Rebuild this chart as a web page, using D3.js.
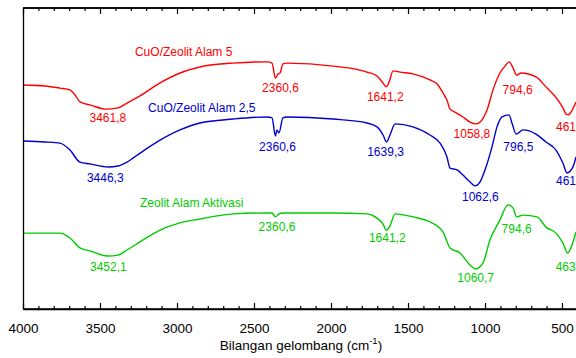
<!DOCTYPE html>
<html><head><meta charset="utf-8">
<script src="https://cdn.jsdelivr.net/npm/d3@7"></script>
<style>body{margin:0;background:#fff} svg text{font-family:"Liberation Sans",Arial,Helvetica,sans-serif}</style>
</head><body><svg id="c" width="576" height="358"></svg>
<script>
// ---- data ----
const majorTicks = [4000,3500,3000,2500,2000,1500,1000,500];
const xTitle = "Bilangan gelombang (cm";
const xTitleSup = "-1";

const seriesNames = ["CuO/Zeolit Alam 5","CuO/Zeolit Alam 2,5","Zeolit Alam Aktivasi"];

const cuo5Wn = [4000,3857,3760,3695,3662,3630,3565,3462,3383,3325,3240,3110,2981,2851,2636,2416,2383,2361,2344,2331,2312,2286,1987,1766,1701,1662,1641,1623,1597,1552,1468,1357,1312,1273,1247,1227,1195,1143,1097,1059,1032,987,948,903,870,844,818,795,766,669,604,526,494,474,461,442,409];
const cuo5T  = [74.4,74.1,73.4,72.8,71.1,68.8,67.8,66.4,66.8,68.4,70.8,75.1,78.4,80.4,81.7,82.1,81.7,76.7,78.1,78.4,81.4,81.7,80.7,78.7,77.4,75.1,73.8,75.4,79.1,78.7,78.1,76.1,74.8,71.8,69.4,66.4,65.4,63.8,62.1,61.5,62.1,66.1,72.8,78.4,80.7,82.1,80.1,77.7,78.4,77.1,73.8,69.4,66.8,64.8,64.5,65.4,68.8];

const cuo25Wn = [4000,3857,3760,3695,3630,3565,3446,3383,3325,3240,3110,2981,2851,2636,2416,2383,2361,2351,2338,2312,2286,1987,1766,1701,1662,1639,1617,1584,1468,1357,1292,1247,1227,1182,1143,1097,1063,1032,1000,955,922,890,844,825,797,753,669,604,539,494,468,429,409];
const cuo25T  = [55.8,55.5,55.1,52.8,48.8,48.2,47.2,47.5,48.8,51.8,56.1,59.5,61.8,63.1,63.8,63.5,57.5,59.5,58.5,63.5,63.8,63.1,61.8,60.5,57.8,55.5,57.8,61.5,60.5,57.8,55.1,50.5,46.8,46.2,44.5,42.2,40.9,42.2,46.2,53.8,60.5,63.8,64.5,61.8,58.1,59.5,58.1,55.5,52.8,48.5,45.2,47.2,50.5];

const zaWn = [4000,3857,3760,3695,3630,3565,3452,3383,3325,3240,3110,2981,2851,2636,2416,2383,2361,2338,2312,1987,1766,1701,1662,1641,1617,1584,1468,1357,1273,1227,1162,1097,1061,1013,968,903,851,818,795,753,662,604,539,494,463,442,409];
const zaT  = [25.2,25.2,25.2,23.6,20.3,19.3,17.6,17.9,19.6,22.3,26.2,28.6,29.9,31.6,31.9,31.9,30.6,31.6,31.9,31.9,31.6,30.2,28.2,26.2,27.6,31.6,30.6,28.9,25.6,20.3,18.6,14.6,13.3,15.3,22.9,29.6,34.6,33.6,30.6,31.2,30.6,27.2,25.2,21.9,18.6,20.3,25.6];

const cuo5Peaks  = ["3461,8","2360,6","1641,2","1058,8","794,6","461"];
const cuo25Peaks = ["3446,3","2360,6","1639,3","1062,6","796,5","461"];
const zaPeaks    = ["3452,1","2360,6","1641,2","1060,7","794,6","463"];

// ---- layout (pixel offsets of annotations) ----
const cuo5Dx = [2,5,-1,-4,1,-2],  cuo5Dy = [9,10,10,10,15,12];
const cuo25Dx = [-3,2,-1,5,2,-2], cuo25Dy = [11,11,10,11,13,9];
const zaDx = [1,1.5,1,0,0,-2],    zaDy = [11,10,8,9,12,14];
const nameAnchors = [[3273,85.4],[3188,66.8],[3240,35.2]];
const colors = ["#ff0000","#0000cc","#00cc00"];

// ---- chart ----
const svg = d3.select("#c");
const x = d3.scaleLinear().domain([4000,400]).range([23,577.4]);
const y = d3.scaleLinear().domain([0,100]).range([309,8]);

const series = [
  {wn:cuo5Wn, t:cuo5T, peaks:cuo5Peaks, dx:cuo5Dx, dy:cuo5Dy},
  {wn:cuo25Wn, t:cuo25T, peaks:cuo25Peaks, dx:cuo25Dx, dy:cuo25Dy},
  {wn:zaWn, t:zaT, peaks:zaPeaks, dx:zaDx, dy:zaDy}
];

svg.append("defs").append("clipPath").attr("id","clip")
  .append("rect").attr("x",23).attr("y",8).attr("width",560).attr("height",301);

const line = d3.line().x(d=>x(d[0])).y(d=>y(d[1])).curve(d3.curveMonotoneX);

function interp(s, w){
  for(let i=0;i<s.wn.length-1;i++){
    const a=s.wn[i], b=s.wn[i+1];
    if(w<=a && w>=b){ const f=(a-w)/(a-b); return s.t[i]+f*(s.t[i+1]-s.t[i]); }
  }
  return s.t[s.t.length-1];
}

series.forEach((s,k)=>{
  const pts = s.wn.map((w,i)=>[w,s.t[i]]);
  svg.append("path").attr("d",line(pts)).attr("fill","none")
    .attr("stroke",colors[k]).attr("stroke-width",1.4).attr("clip-path","url(#clip)");
  s.peaks.forEach((p,i)=>{
    const w = parseFloat(p.replace(",","."));
    svg.append("text").attr("x",x(w)+s.dx[i]).attr("y",y(interp(s,w))+s.dy[i])
      .attr("text-anchor","middle").attr("dominant-baseline","central")
      .attr("font-size",12).attr("fill",colors[k]).text(p);
  });
  svg.append("text").attr("x",x(nameAnchors[k][0])).attr("y",y(nameAnchors[k][1]))
    .attr("dominant-baseline","central").attr("font-size",12).attr("fill",colors[k]).text(seriesNames[k]);
});

// axes
const minorTicks = d3.range(4000,399,-100).filter(v=>v%500!==0);
const gB = svg.append("g").attr("transform","translate(0,309)");
gB.call(d3.axisBottom(x).tickValues(majorTicks).tickSizeInner(-6).tickSizeOuter(0).tickPadding(14).tickFormat(d3.format("d")));
gB.append("g").call(d3.axisBottom(x).tickValues(minorTicks).tickSizeInner(-3).tickSizeOuter(0).tickFormat(""));
const gT = svg.append("g").attr("transform","translate(0,8)");
gT.call(d3.axisTop(x).tickValues(majorTicks).tickSizeInner(-6).tickSizeOuter(0).tickFormat(""));
gT.append("g").call(d3.axisTop(x).tickValues(minorTicks).tickSizeInner(-3).tickSizeOuter(0).tickFormat(""));
svg.selectAll(".domain").attr("stroke","#000").attr("stroke-width",1.3);
svg.selectAll(".tick line").attr("stroke","#000").attr("stroke-width",1.2);
gB.selectAll(".tick text").attr("font-size",13.5).attr("fill","#000").attr("font-family","'Liberation Sans',Arial,sans-serif");
gB.select(".domain").attr("d","M23,0H576");
gT.selectAll(".domain").attr("d","M23,0H576");

const yAxis = svg.append("g").attr("transform","translate(23,0)");
yAxis.call(d3.axisLeft(y).tickValues([]).tickSizeOuter(0));
yAxis.select(".domain").attr("stroke","#000").attr("stroke-width",1.3);

const title = svg.append("text").attr("x",301).attr("y",350).attr("text-anchor","middle")
  .attr("font-size",13.5).attr("fill","#000");
title.append("tspan").text(xTitle);
title.append("tspan").attr("font-size",9.5).attr("dy",-6).text(xTitleSup);
title.append("tspan").attr("dy",6).text(")");
</script></body></html>
